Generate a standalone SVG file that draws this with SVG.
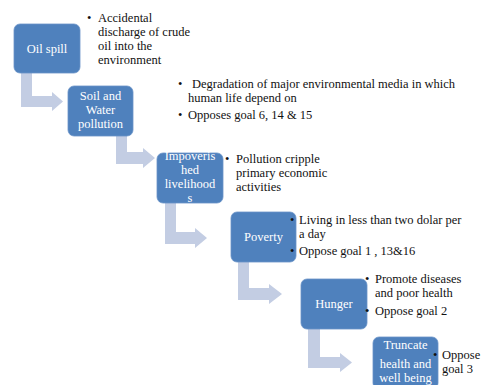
<svg xmlns="http://www.w3.org/2000/svg" width="483" height="385" viewBox="0 0 483 385">
<style>
.box{fill:#4F81BD;stroke:#6A93C8;stroke-width:0.8}
.bt{fill:#FFFFFF;text-anchor:middle}
.tx{fill:#111111}
.arr{fill:#C3CDE3}
</style>
<rect width="483" height="385" fill="#FFFFFF"/>
<g id="connectors">
<path class="arr" d="M21,73 H32 V96 H52 V92 L63,101.5 L52,111 V107 H21 Z"/>
<path class="arr" d="M116,136 H127 V152 H143 V148 L155,158 L143,168 V164 H116 Z"/>
<path class="arr" d="M165,203 H176 V232 H195 V228 L207,238 L195,248 V244 H165 Z"/>
<path class="arr" d="M238,262 H249 V288 H269 V284 L282,294 L269,304 V300 H238 Z"/>
<path class="arr" d="M308,329 H320 V357 H340 V353 L352,362.5 L340,372 V368 H308 Z"/>
</g>
<g font-family="'Liberation Serif', 'Times New Roman', Times, serif" font-size="12.5">
<g id="node-oil-spill">
<rect class="box" x="14" y="24" width="66" height="49" rx="6"/>
<text class="bt" x="47" y="53">Oil spill</text>
</g>
<g id="note-oil-spill">
<text class="tx" x="87" y="21.5">•</text>
<text class="tx" x="98" y="21.5">Accidental</text>
<text class="tx" x="98" y="35.5">discharge of  crude</text>
<text class="tx" x="98" y="49.5">oil  into the</text>
<text class="tx" x="98" y="63.5">environment</text>
</g>
<g id="node-soil-water">
<rect class="box" x="68" y="86" width="65" height="50" rx="6"/>
<text class="bt" x="100.5" y="100">Soil and</text>
<text class="bt" x="100.5" y="114">Water</text>
<text class="bt" x="100.5" y="128">pollution</text>
</g>
<g id="note-soil-water">
<text class="tx" x="178" y="88">•</text>
<text class="tx" x="192" y="88">Degradation of major environmental  media in which</text>
<text class="tx" x="188" y="102">human life depend on</text>
<text class="tx" x="178" y="119">•</text>
<text class="tx" x="188" y="119">Opposes goal 6, 14 &amp; 15</text>
</g>
<g id="node-livelihoods">
<rect class="box" x="157" y="153" width="66" height="50" rx="6"/>
<text class="bt" x="190" y="159.5">Impoveris</text>
<text class="bt" x="190" y="173.5">hed</text>
<text class="bt" x="190" y="187.5">livelihood</text>
<text class="bt" x="190" y="201.5">s</text>
</g>
<g id="note-livelihoods">
<text class="tx" x="225" y="163">•</text>
<text class="tx" x="236" y="163">Pollution  cripple</text>
<text class="tx" x="236" y="177">primary economic</text>
<text class="tx" x="236" y="191">activities</text>
</g>
<g id="node-poverty">
<rect class="box" x="231" y="212" width="65" height="50" rx="6"/>
<text class="bt" x="263.5" y="241">Poverty</text>
</g>
<g id="note-poverty">
<text class="tx" x="290" y="223.5">•</text>
<text class="tx" x="299" y="223.5">Living in less than two dolar per</text>
<text class="tx" x="299" y="237.5">a day</text>
<text class="tx" x="290" y="255">•</text>
<text class="tx" x="299" y="255">Oppose goal 1 , 13&amp;16</text>
</g>
<g id="node-hunger">
<rect class="box" x="301" y="279" width="66" height="50" rx="6"/>
<text class="bt" x="334" y="308">Hunger</text>
</g>
<g id="note-hunger">
<text class="tx" x="365" y="283">•</text>
<text class="tx" x="375" y="283">Promote diseases</text>
<text class="tx" x="375" y="297">and poor health</text>
<text class="tx" x="365" y="315">•</text>
<text class="tx" x="375" y="315">Oppose goal 2</text>
</g>
<g id="node-truncate">
<rect class="box" x="373" y="337" width="65" height="52" rx="6"/>
<text class="bt" x="405.5" y="349">Truncate</text>
<text class="bt" x="405.5" y="368">health and</text>
<text class="bt" x="405.5" y="382">well being</text>
</g>
<g id="note-truncate">
<text class="tx" x="433" y="359">•</text>
<text class="tx" x="442" y="359">Oppose</text>
<text class="tx" x="442" y="373">goal 3</text>
</g>
</g>
</svg>
